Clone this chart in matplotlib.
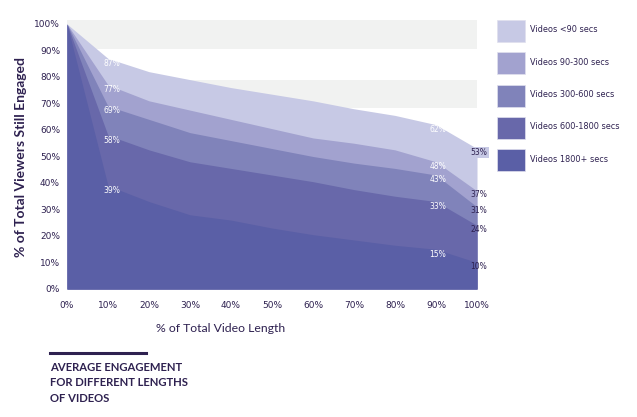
import matplotlib
matplotlib.use("Agg")
import matplotlib.pyplot as plt
from matplotlib.patches import Rectangle

x_pct = [0, 10, 20, 30, 40, 50, 60, 70, 80, 90, 100]
series_names = ["Videos <90 secs", "Videos 90-300 secs", "Videos 300-600 secs",
                "Videos 600-1800 secs", "Videos 1800+ secs"]
v_lt90 = [100, 87, 82, 79, 76, 73.5, 71, 68, 65.5, 62, 53]
v_90_300 = [100, 77, 71, 67.5, 64, 60.5, 57, 55, 52.5, 48, 37]
v_300_600 = [100, 69, 64, 59, 56, 53, 50, 47.5, 45.5, 43, 31]
v_600_1800 = [100, 58, 52.5, 48, 45.5, 43, 40.5, 37.5, 35, 33, 24]
v_1800p = [100, 39, 33, 28, 26, 23, 20.5, 18.5, 16.5, 15, 10]
series = [v_lt90, v_90_300, v_300_600, v_600_1800, v_1800p]
colors = ["#c7c9e5", "#a2a2cf", "#8083ba", "#6868aa", "#5a5fa6"]
y_ticks = [0, 10, 20, 30, 40, 50, 60, 70, 80, 90, 100]

dark = "#2e2150"

fig = plt.figure(figsize=(6.37, 4.17), dpi=100)
ax = fig.add_axes([67/637, 1-289/417, (477-67)/637, (289-20)/417])
ax.set_xlim(0, 100)
ax.set_ylim(0, 101.5)

ax.axhspan(90.7, 101.5, color="#f1f2f1", zorder=0, lw=0)
ax.axhspan(68.3, 79, color="#f1f2f1", zorder=0, lw=0)

for vals, c in zip(series, colors):
    ax.fill_between(x_pct, 0, vals, color=c, lw=0, zorder=2)

for s in ax.spines.values():
    s.set_visible(False)
ax.tick_params(length=0, labelsize=6.5, labelcolor=dark)
ax.tick_params(axis="x", pad=9)
ax.tick_params(axis="y", pad=5)
ax.set_xticks(x_pct)
ax.set_xticklabels([f"{v}%" for v in x_pct])
ax.set_yticks(y_ticks)
ax.set_yticklabels([f"{v}%" for v in y_ticks])

# point labels
for vals in series:
    ax.text(11, vals[1] - 1.8, f"{vals[1]:.0f}%", color="white", fontsize=5.5,
            ha="center", va="center", zorder=3)
    ax.text(90.5, vals[9] - 1.8, f"{vals[9]:.0f}%", color="white", fontsize=5.5,
            ha="center", va="center", zorder=3)
for i, vals in enumerate(series):
    kw = {}
    if i == 0:
        kw["bbox"] = dict(boxstyle="square,pad=0.15", fc="#c7c9e5", ec="none")
    ax.text(100.5, vals[10] - 1.5, f"{vals[10]:.0f}%", color=dark, fontsize=5.5,
            ha="center", va="center", zorder=4, clip_on=False, **kw)

fig.text(21/637, 1-157/417, "% of Total Viewers Still Engaged", rotation=90,
         ha="center", va="center", fontsize=10, fontweight="bold", color=dark,
         family=["Lato", "DejaVu Sans"])
fig.text(221/637, 1-329/417, "% of Total Video Length", ha="center", va="center",
         fontsize=8.8, color=dark, family=["Lato", "DejaVu Sans"])

# legend
for i, (name, c) in enumerate(zip(series_names, colors)):
    y0 = 20 + i * 32.3
    fig.patches.append(Rectangle((497/637, 1-(y0+22)/417), 28/637, 22/417,
                                 transform=fig.transFigure, fc=c, ec="#e0e0ee", lw=0.5))
    fig.text(530/637, 1-(y0+10)/417, name, ha="left", va="center", fontsize=5.9,
             color=dark)

# title block
fig.add_artist(plt.Line2D([50/637, 146/637], [1-353/417, 1-353/417],
                          transform=fig.transFigure, color=dark, lw=2.2))
fig.text(50/637, 1-383/417, "AVERAGE ENGAGEMENT\nFOR DIFFERENT LENGTHS\nOF VIDEOS",
         ha="left", va="center", fontsize=8.1, fontweight="bold", color=dark,
         linespacing=1.5, family=["Lato", "DejaVu Sans"])

fig.savefig("out.png", dpi=100)
